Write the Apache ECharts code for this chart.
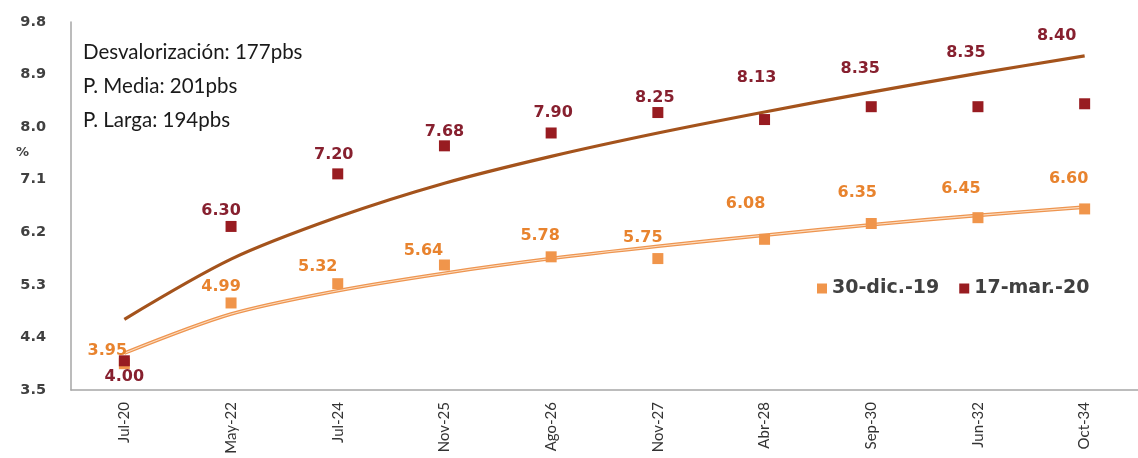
<!DOCTYPE html>
<html><head><meta charset="utf-8">
<script src="https://cdn.jsdelivr.net/npm/echarts@6/dist/echarts.min.js"></script>
<style>html,body{margin:0;padding:0;background:#fff}#c{width:1138px;height:458px}</style>
</head><body><div id="c"></div>
<script>
// ---- data ----
const categories = ['Jul-20','May-22','Jul-24','Nov-25','Ago-26','Nov-27','Abr-28','Sep-30','Jun-32','Oct-34'];
const dec19 = [3.95, 4.99, 5.32, 5.64, 5.78, 5.75, 6.08, 6.35, 6.45, 6.60];
const mar20 = [4.00, 6.30, 7.20, 7.68, 7.90, 8.25, 8.13, 8.35, 8.35, 8.40];
const dec19Trend = [4.13, 4.80, 5.20, 5.50, 5.75, 5.96, 6.15, 6.33, 6.49, 6.63];
const mar20Trend = [4.71, 5.74, 6.46, 7.04, 7.50, 7.90, 8.26, 8.60, 8.92, 9.22];
const seriesNames = ['30-dic.-19', '17-mar.-20'];
const yMin = 3.5, yMax = 9.8, yStep = 0.9;
const notes = ['Desvalorización: 177pbs', 'P. Media: 201pbs', 'P. Larga: 194pbs'];
const unitLabel = '%';

// ---- label placement (style only) ----
const dec19LabelOffset = [[-17,-13],[-10,-16],[-20,-17],[-21,-14],[-11,-21],[-15,-21],[-19,-35],[-14,-31],[-17,-29],[-16,-30]];
const mar20LabelOffset = [[0,16],[-10,-16],[-4,-19],[0,-14],[2,-20],[-3,-15],[-8,-42],[-11,-38],[-12,-54],[-28,-68]];

const C_ORANGE = '#F0954B', C_ORANGE_TXT = '#E8832E';
const C_DARK = '#981C21', C_DARK_TXT = '#87202F';
const C_TREND_DARK = '#A4531C';

function pts(vals, offs, color) {
  return vals.map((v, i) => ({
    value: v,
    label: { offset: offs[i], color: color }
  }));
}

const chart = echarts.init(document.getElementById('c'), null, {renderer: 'canvas'});
chart.setOption({
  animation: false,
  backgroundColor: '#fff',
  grid: { left: 71, right: -4, top: 22, bottom: 68, containLabel: false },
  legend: {
    data: seriesNames,
    left: 812, top: 274,
    icon: 'rect', itemWidth: 10, itemHeight: 10, itemGap: 20,
    textStyle: { fontFamily: 'DejaVu Sans', fontWeight: 'bold', fontSize: 19, color: '#404040' }
  },
  xAxis: {
    type: 'category', data: categories, boundaryGap: true,
    axisLine: { lineStyle: { color: '#a6a6a6', width: 1.5 } },
    axisTick: { show: false },
    axisLabel: { rotate: 90, margin: 12, fontFamily: 'Lato', fontSize: 15, color: '#333' },
    splitLine: { show: false }
  },
  yAxis: {
    type: 'value', min: yMin, max: yMax, interval: yStep,
    axisLine: { show: true, lineStyle: { color: '#a6a6a6', width: 1.5 } },
    axisTick: { show: false },
    splitLine: { show: false },
    axisLabel: { margin: 25, fontFamily: 'DejaVu Sans', fontWeight: 'bold', fontSize: 14.5, color: '#404040',
      formatter: v => (Math.round(v * 10) / 10).toFixed(1) }
  },
  graphic: [
    { type: 'text', left: 16, top: 146, style: { text: unitLabel, fontFamily: 'DejaVu Sans', fontWeight: 'bold', fontSize: 13, fill: '#404040' } },
    { type: 'text', left: 83, top: 35, style: { text: notes.join('\n'), fontFamily: 'Lato', fontSize: 20.5, lineHeight: 34, fill: '#1a1a1a' } }
  ],
  series: [
    { name: 'trend-dec19-outer', type: 'line', data: dec19Trend, smooth: 0.3, symbol: 'none', z: 1,
      lineStyle: { color: '#EE9550', width: 3.6 }, silent: true },
    { name: 'trend-dec19-inner', type: 'line', data: dec19Trend, smooth: 0.3, symbol: 'none', z: 1,
      lineStyle: { color: '#FBDCC0', width: 1.1 }, silent: true },
    { name: 'trend-mar20', type: 'line', data: mar20Trend, smooth: 0.3, symbol: 'none', z: 1,
      lineStyle: { color: C_TREND_DARK, width: 3.2 }, silent: true },
    { name: seriesNames[0], type: 'scatter', data: pts(dec19, dec19LabelOffset, C_ORANGE_TXT), z: 3,
      symbol: 'rect', symbolSize: 11, itemStyle: { color: C_ORANGE, opacity: 1 },
      label: { show: true, position: 'inside', fontFamily: 'DejaVu Sans', fontWeight: 'bold', fontSize: 16,
        formatter: p => p.value.toFixed(2) } },
    { name: seriesNames[1], type: 'scatter', data: pts(mar20, mar20LabelOffset, C_DARK_TXT), z: 4,
      symbol: 'rect', symbolSize: 11, itemStyle: { color: C_DARK, opacity: 1 },
      label: { show: true, position: 'inside', fontFamily: 'DejaVu Sans', fontWeight: 'bold', fontSize: 16,
        formatter: p => p.value.toFixed(2) } }
  ]
});
</script></body></html>
